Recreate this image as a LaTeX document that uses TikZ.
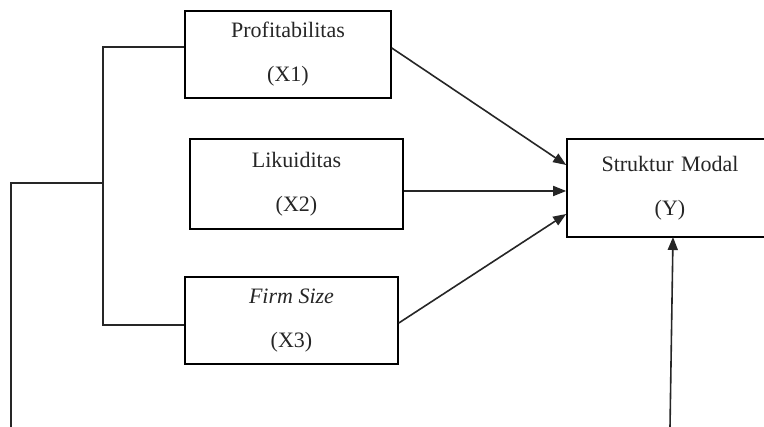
\documentclass[tikz,border=0pt]{standalone}
\usepackage{fontspec}
\setmainfont{Liberation Serif}
\usetikzlibrary{arrows.meta}
\begin{document}
\begin{tikzpicture}[x=1pt,y=-1pt,
  box/.style={draw, line width=1.6pt, inner sep=0pt, align=center,
    font=\fontsize{22}{44}\selectfont, text=black!85},
  ln/.style={line width=1.6pt, black!85},
  arr/.style={ln, -{Triangle[length=13pt,width=10pt]}}]
\clip (0,0) rectangle (764,427);
\fill[white] (0,0) rectangle (764,427);
\node[box, minimum width=206pt, minimum height=87pt] (X1) at (288,54.5) {\raisebox{-3pt}{Profitabilitas}\\\raisebox{-3pt}{(X1)}};
\node[box, minimum width=213pt, minimum height=90pt] (X2) at (296.5,184) {\raisebox{-3pt}{Likuiditas}\\\raisebox{-3pt}{(X2)}};
\node[box, minimum width=213pt, minimum height=87pt] (X3) at (291.5,320.5) {\raisebox{-3pt}{\textit{Firm Size}}\\\raisebox{-3pt}{(X3)}};
\node[box, minimum width=220pt, minimum height=98pt, text width=206pt, xshift=7pt] (Y) at (670,188) {\hspace*{-14pt}\raisebox{-3pt}{Struktur Modal}\\\hspace*{-14pt}\raisebox{-3pt}{(Y)}};
\coordinate (b1) at (103,47);
\coordinate (b2) at (103,183);
\coordinate (b3) at (103,325);
\coordinate (L) at (11,183);
\coordinate (Lb) at (11,427.5);
\coordinate (Rb) at (670,427.5);
\draw[ln] (X1.west |- b1) -- (b1) -- (b3) -- (X3.west |- b3);
\draw[ln] (b2) -- (L) -- (Lb) -- (Rb);
\draw[arr] (Rb) -- (673,237) coordinate (Yb);
\draw[arr] (X1.east |- 0,48) -- (Y.west |- 0,165);
\draw[arr] (X2.east |- 0,191) -- (Y.west |- 0,191);
\draw[arr] (X3.east |- 0,323) -- (Y.west |- 0,214);
\end{tikzpicture}
\end{document}
